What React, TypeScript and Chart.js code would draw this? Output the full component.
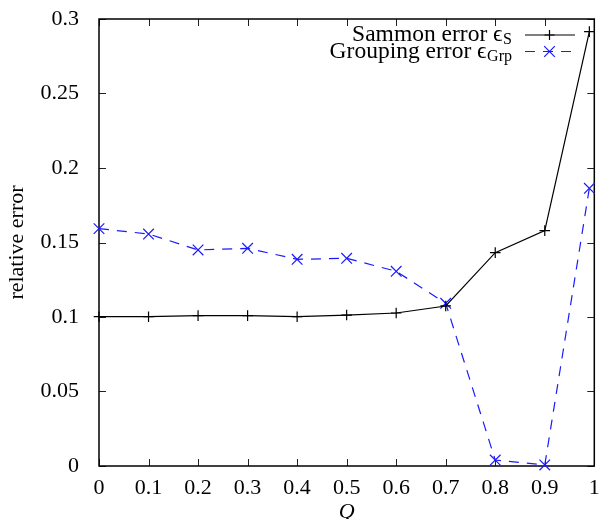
import { useEffect, useRef } from "react";
import { Chart, registerables } from "chart.js";

Chart.register(...registerables);

const qValues = [0, 0.1, 0.2, 0.3, 0.4, 0.5, 0.6, 0.7, 0.8, 0.9, 0.99];
const sammonError = [0.1002, 0.1002, 0.1009, 0.1009, 0.1002, 0.1013, 0.1027, 0.1074, 0.1432, 0.158, 0.2915];
const groupingError = [0.1593, 0.1557, 0.145, 0.1461, 0.1387, 0.1394, 0.1307, 0.1092, 0.004, 0.0007, 0.1864];

const xTickValues = [0, 0.1, 0.2, 0.3, 0.4, 0.5, 0.6, 0.7, 0.8, 0.9, 1];
const xTickLabels = ["0", "0.1", "0.2", "0.3", "0.4", "0.5", "0.6", "0.7", "0.8", "0.9", "1"];
const yTickValues = [0, 0.05, 0.1, 0.15, 0.2, 0.25, 0.3];
const yTickLabels = ["0", "0.05", "0.1", "0.15", "0.2", "0.25", "0.3"];

const seriesNames = ["Sammon error", "Grouping error"];
const seriesSubscripts = ["S", "Grp"];
const xTitle = "Q";
const yTitle = "relative error";

const SERIF = '"Liberation Serif", "Times New Roman", serif';
const BLUE = "#1a1aff";

const framePlugin = {
  id: "frame",
  beforeDatasetsDraw(chart: any) {
    const { ctx, chartArea, scales } = chart;
    const { left, right, top, bottom } = chartArea;
    const tl = 7;
    ctx.save();
    ctx.strokeStyle = "#222";
    ctx.lineWidth = 1;
    ctx.beginPath();
    xTickValues.forEach((v) => {
      const px = Math.round(scales.x.getPixelForValue(v)) + 0.5;
      ctx.moveTo(px, bottom);
      ctx.lineTo(px, bottom - tl);
      ctx.moveTo(px, top);
      ctx.lineTo(px, top + tl);
    });
    yTickValues.forEach((v) => {
      const py = Math.round(scales.y.getPixelForValue(v)) + 0.5;
      ctx.moveTo(left, py);
      ctx.lineTo(left + tl, py);
      ctx.moveTo(right, py);
      ctx.lineTo(right - tl, py);
    });
    ctx.stroke();
    ctx.strokeStyle = "#000";
    ctx.lineWidth = 1.5;
    ctx.strokeRect(left, top, right - left, bottom - top);
    ctx.restore();
  },
};

const legendPlugin = {
  id: "gpLegend",
  afterDraw(chart: any) {
    const { ctx } = chart;
    const textRight = 512;
    const rows = [41, 57.5];
    const sampleX0 = 525;
    const sampleX1 = 575;
    const markX = 549.5;
    ctx.save();
    rows.forEach((base, i) => {
      ctx.fillStyle = "#000";
      ctx.textBaseline = "alphabetic";
      ctx.font = `16px ${SERIF}`;
      const subW = ctx.measureText(seriesSubscripts[i]).width;
      ctx.textAlign = "left";
      ctx.fillText(seriesSubscripts[i], textRight - subW, base + 3);
      ctx.font = `23.5px ${SERIF}`;
      ctx.textAlign = "right";
      ctx.fillText(seriesNames[i] + " \u03F5", textRight - subW - 0.5, base);

      const ly = base - 6;
      const ds = chart.data.datasets[i];
      ctx.strokeStyle = ds.borderColor;
      ctx.lineWidth = ds.borderWidth;
      ctx.setLineDash(ds.borderDash || []);
      ctx.beginPath();
      ctx.moveTo(sampleX0, ly);
      ctx.lineTo(sampleX1, ly);
      ctx.stroke();
      ctx.setLineDash([]);
      ctx.beginPath();
      if (i === 0) {
        ctx.moveTo(markX - 5, ly);
        ctx.lineTo(markX + 5, ly);
        ctx.moveTo(markX, ly - 5);
        ctx.lineTo(markX, ly + 5);
      } else {
        const r = 5.3;
        ctx.moveTo(markX - r, ly - r);
        ctx.lineTo(markX + r, ly + r);
        ctx.moveTo(markX + r, ly - r);
        ctx.lineTo(markX - r, ly + r);
      }
      ctx.stroke();
    });
    ctx.restore();
  },
};

export default function App() {
  const canvasRef = useRef<HTMLCanvasElement | null>(null);

  useEffect(() => {
    if (!canvasRef.current) return;
    const chart = new Chart(canvasRef.current, {
      type: "line",
      data: {
        datasets: [
          {
            label: seriesNames[0] + " " + seriesSubscripts[0],
            data: qValues.map((q, i) => ({ x: q, y: sammonError[i] })),
            borderColor: "#000",
            borderWidth: 1.2,
            pointStyle: "cross",
            pointRadius: 5.3,
            pointBorderWidth: 1.2,
            pointBorderColor: "#000",
            tension: 0,
            clip: false,
          } as any,
          {
            label: seriesNames[1] + " " + seriesSubscripts[1],
            data: qValues.map((q, i) => ({ x: q, y: groupingError[i] })),
            borderColor: BLUE,
            borderWidth: 1.2,
            borderDash: [10, 8],
            pointStyle: "crossRot",
            pointRadius: 7.5,
            pointBorderWidth: 1.2,
            pointBorderColor: BLUE,
            tension: 0,
            clip: false,
          } as any,
        ],
      },
      options: {
        animation: false,
        responsive: true,
        maintainAspectRatio: false,
        layout: { padding: { top: 19, right: 7, left: 0, bottom: 0 } },
        plugins: {
          legend: { display: false },
          tooltip: { enabled: false },
        },
        scales: {
          x: {
            type: "linear",
            min: 0,
            max: 1,
            grid: { display: false },
            border: { display: false },
            afterBuildTicks: (scale: any) => {
              scale.ticks = xTickValues.map((v) => ({ value: v }));
            },
            afterFit: (scale: any) => {
              scale.height = 53;
            },
            ticks: {
              autoSkip: false,
              maxRotation: 0,
              padding: 1,
              color: "#000",
              font: { family: SERIF, size: 22 },
              callback: (_v: any, i: number) => xTickLabels[i],
            },
            title: {
              display: true,
              text: xTitle,
              color: "#000",
              font: { family: SERIF, size: 22, style: "italic", lineHeight: 1 },
              padding: { top: 0, bottom: -4 },
            },
          },
          y: {
            type: "linear",
            min: 0,
            max: 0.3,
            grid: { display: false },
            border: { display: false },
            afterBuildTicks: (scale: any) => {
              scale.ticks = yTickValues.map((v) => ({ value: v }));
            },
            afterFit: (scale: any) => {
              scale.width = 99;
            },
            ticks: {
              autoSkip: false,
              padding: 12,
              color: "#000",
              font: { family: SERIF, size: 22, lineHeight: 0.5 },
              callback: (_v: any, i: number) => yTickLabels[i],
            },
            title: {
              display: true,
              text: yTitle,
              color: "#000",
              font: { family: SERIF, size: 22 },
              padding: 4,
            },
          },
        },
      } as any,
      plugins: [framePlugin, legendPlugin],
    });
    return () => chart.destroy();
  }, []);

  return (
    <div style={{ position: "fixed", left: 0, top: 0, width: 603, height: 519, background: "#fff" }}>
      <canvas ref={canvasRef} />
    </div>
  );
}
